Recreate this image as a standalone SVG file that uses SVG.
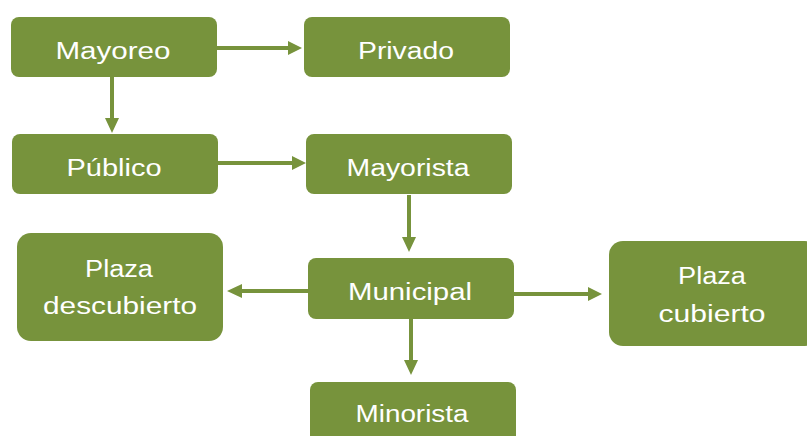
<svg xmlns="http://www.w3.org/2000/svg" width="807" height="436" viewBox="0 0 807 436">
<style>
.box{fill:#77933C}
.t{fill:#fff;font-family:"Liberation Sans",Arial,sans-serif;font-size:23px;text-anchor:middle}
.c{stroke:#77933C;stroke-width:4;fill:none}
.h{fill:#77933C}
</style>
<rect width="807" height="436" fill="#fff"/>
<g id="connectors">
<line class="c" x1="217" y1="48" x2="290" y2="48"/><polygon class="h" points="288,41 302,48 288,55"/>
<line class="c" x1="112" y1="77" x2="112" y2="120"/><polygon class="h" points="105,118 112,133 119,118"/>
<line class="c" x1="218" y1="163" x2="294" y2="163"/><polygon class="h" points="292,156 306,163 292,170"/>
<line class="c" x1="409" y1="195" x2="409" y2="240"/><polygon class="h" points="402,237 409,252 416,237"/>
<line class="c" x1="308" y1="291" x2="240" y2="291"/><polygon class="h" points="242,284 227,291 242,298"/>
<line class="c" x1="514" y1="294" x2="590" y2="294"/><polygon class="h" points="588,287 602,294 588,301"/>
<line class="c" x1="411" y1="319" x2="411" y2="362"/><polygon class="h" points="404,360 411,375 418,360"/>
</g>
<g id="mayoreo"><rect class="box" x="11" y="17" width="206" height="60" rx="8"/><text class="t" x="113" y="59" textLength="115" lengthAdjust="spacingAndGlyphs">Mayoreo</text></g>
<g id="privado"><rect class="box" x="304" y="17" width="206" height="60" rx="8"/><text class="t" x="406" y="59" textLength="96" lengthAdjust="spacingAndGlyphs">Privado</text></g>
<g id="publico"><rect class="box" x="12" y="134" width="206" height="60" rx="8"/><text class="t" x="114" y="176" textLength="95" lengthAdjust="spacingAndGlyphs">Público</text></g>
<g id="mayorista"><rect class="box" x="306" y="134" width="206" height="60" rx="8"/><text class="t" x="408" y="176" textLength="123" lengthAdjust="spacingAndGlyphs">Mayorista</text></g>
<g id="municipal"><rect class="box" x="308" y="258" width="206" height="61" rx="8"/><text class="t" x="410" y="300" textLength="124" lengthAdjust="spacingAndGlyphs">Municipal</text></g>
<g id="plaza-descubierto"><rect class="box" x="17" y="233" width="206" height="108" rx="14"/><text class="t" x="119" y="277" textLength="68" lengthAdjust="spacingAndGlyphs">Plaza</text><text class="t" x="120" y="314" textLength="154" lengthAdjust="spacingAndGlyphs">descubierto</text></g>
<g id="plaza-cubierto"><rect class="box" x="609" y="241" width="210" height="105" rx="14"/><text class="t" x="712" y="284" textLength="68" lengthAdjust="spacingAndGlyphs">Plaza</text><text class="t" x="712" y="322" textLength="107" lengthAdjust="spacingAndGlyphs">cubierto</text></g>
<g id="minorista"><rect class="box" x="310" y="382" width="206" height="70" rx="8"/><text class="t" x="412" y="422" textLength="113" lengthAdjust="spacingAndGlyphs">Minorista</text></g>
</svg>
